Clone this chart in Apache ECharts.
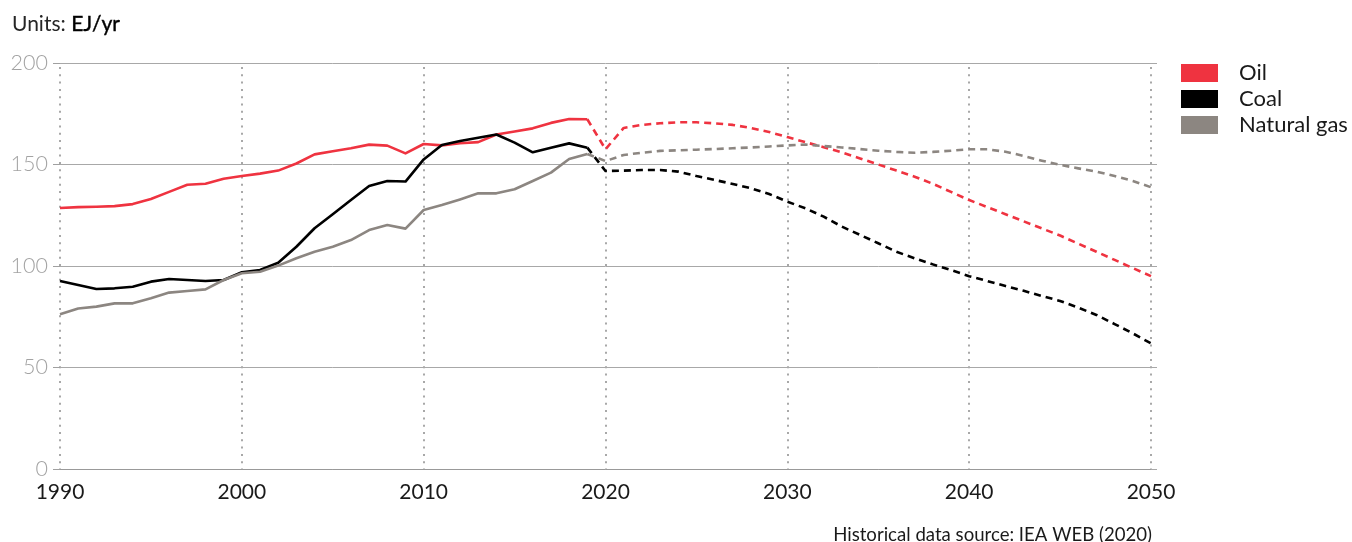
<!DOCTYPE html>
<html>
<head>
<meta charset="utf-8">
<script src="https://cdn.jsdelivr.net/npm/echarts@6/dist/echarts.min.js"></script>
<style>
  html, body { margin: 0; padding: 0; background: #ffffff; }
  #chart { width: 1352px; height: 542px; }
</style>
</head>
<body>
<div id="chart"></div>
<script>
// Primary energy demand by fuel, EJ/yr
const histYears = [1990,1991,1992,1993,1994,1995,1996,1997,1998,1999,
                   2000,2001,2002,2003,2004,2005,2006,2007,2008,2009,
                   2010,2011,2012,2013,2014,2015,2016,2017,2018,2019];
const oilHist  = [128.6,129.0,129.2,129.5,130.5,133.0,136.5,140.0,140.5,143.0,
                  144.3,145.5,147.0,150.5,155.0,156.5,158.0,159.8,159.3,155.5,
                  160.1,159.4,160.5,161.0,164.8,166.3,167.8,170.5,172.4,172.3];
const coalHist = [92.6,90.6,88.7,89.0,89.8,92.3,93.6,93.1,92.6,93.1,
                  96.9,98.0,101.6,109.5,118.6,125.5,132.5,139.4,141.9,141.6,
                  152.5,159.6,161.6,163.2,164.8,160.8,156.0,158.3,160.4,158.3];
const gasHist  = [76.2,79.1,80.0,81.6,81.6,84.1,86.9,87.7,88.5,93.1,
                  96.4,97.2,100.2,103.8,107.0,109.5,112.8,117.7,120.2,118.4,
                  127.6,130.0,132.8,135.8,135.8,137.8,141.9,146.0,152.7,155.2];

const projYears = [2019,2020,2021,2022,2023,2024,2025,2026,2027,2028,2029,
                   2030,2031,2032,2033,2034,2035,2036,2037,2038,2039,
                   2040,2041,2042,2043,2044,2045,2046,2047,2048,2049,2050];
const oilProj  = [172.3,157.5,168.0,169.5,170.3,170.8,170.8,170.3,169.5,168.0,166.0,
                  163.5,161.0,158.5,156.0,153.0,150.0,147.0,144.0,140.5,136.5,
                  132.5,129.0,125.5,122.0,118.5,115.0,111.0,107.0,103.0,99.0,95.0];
const coalProj = [158.3,146.8,147.0,147.3,147.3,146.5,144.3,142.4,140.4,138.3,135.5,
                  131.7,128.4,124.3,119.4,115.3,111.2,107.0,103.8,100.8,98.0,
                  95.0,92.6,90.1,87.8,85.2,82.8,79.5,75.9,71.4,66.8,61.9];
const gasProj  = [155.2,151.7,154.7,155.8,156.7,157.0,157.3,157.6,158.0,158.4,158.9,
                  159.4,159.8,159.1,158.4,157.6,156.8,156.2,155.8,156.2,156.8,
                  157.5,157.5,156.3,154.2,151.9,149.8,148.1,146.5,144.3,141.9,138.8];

const fuelNames = ['Oil', 'Coal', 'Natural gas'];
const xTicks = [1990, 2000, 2010, 2020, 2030, 2040, 2050];
const yTicks = [0, 50, 100, 150, 200];

const colors = { 'Oil': '#EF3340', 'Coal': '#000000', 'Natural gas': '#8C8681' };
const FONT = 'Lato, "Noto Sans", sans-serif';

function pairs(xs, ys) { return xs.map((x, i) => [x, ys[i]]); }

function lineSeries(name, xs, ys, dashed) {
  return {
    name: name,
    type: 'line',
    data: pairs(xs, ys),
    showSymbol: false,
    symbol: 'none',
    smooth: false,
    z: dashed ? 3 : 4,
    lineStyle: {
      color: colors[name],
      width: 2.6,
      type: dashed ? [7, 5] : 'solid',
      cap: 'butt',
      join: 'round'
    },
    itemStyle: { color: colors[name] },
    emphasis: { disabled: true },
    animation: false
  };
}

const chart = echarts.init(document.getElementById('chart'), null, { renderer: 'canvas' });

chart.setOption({
  animation: false,
  backgroundColor: '#ffffff',
  textStyle: { fontFamily: FONT },
  title: [
    {
      left: 7, top: 9,
      text: '{a|Units: }{b|EJ/yr}',
      textStyle: {
        rich: {
          a: { fontFamily: FONT, fontSize: 21, color: '#262626', fontWeight: 'normal' },
          b: { fontFamily: FONT, fontSize: 21, color: '#000000', fontWeight: 'normal',
               textBorderColor: '#000000', textBorderWidth: 0.4 }
        }
      }
    },
    {
      right: 195, top: 520,
      text: 'Historical data source: IEA WEB (2020)',
      textStyle: { fontFamily: FONT, fontSize: 18.6, color: '#1a1a1a', fontWeight: 'normal' }
    }
  ],
  legend: {
    orient: 'vertical',
    left: 1176, top: 57,
    itemWidth: 37, itemHeight: 18, itemGap: 4,
    icon: 'rect',
    selectedMode: false,
    textStyle: { fontFamily: FONT, fontSize: 22, color: '#1a1a1a', padding: [0, 0, 0, 16] },
    data: fuelNames.map(n => ({ name: n, itemStyle: { color: colors[n] }, lineStyle: { opacity: 0 } }))
  },
  grid: { left: 60, right: 201, top: 63, bottom: 73, containLabel: false },
  xAxis: {
    type: 'value',
    min: xTicks[0], max: xTicks[xTicks.length - 1], interval: 10,
    axisLine: { show: true, lineStyle: { color: '#999999', width: 1 } },
    axisTick: { show: false },
    axisLabel: {
      margin: 13, fontSize: 21, color: '#1a1a1a', fontFamily: FONT,
      formatter: v => String(v)
    },
    splitLine: {
      show: true,
      lineStyle: { color: '#a8a8a8', width: 2, type: [2, 5.3], dashOffset: -4 }
    }
  },
  yAxis: [
    {
      type: 'value',
      min: yTicks[0], max: yTicks[yTicks.length - 1], interval: 50,
      axisLine: { show: false },
      axisTick: { show: true, length: 7, lineStyle: { color: '#a0a0a0' } },
      axisLabel: { margin: 12, fontSize: 21.5, color: '#a3a3a3', fontFamily: FONT, fontWeight: 300 },
      splitLine: { show: true, lineStyle: { color: '#a8a8a8', width: 1 } }
    },
    {
      type: 'value', position: 'right',
      min: yTicks[0], max: yTicks[yTicks.length - 1], interval: 50,
      axisLine: { show: false },
      axisTick: { show: true, length: 6, lineStyle: { color: '#a8a8a8' } },
      axisLabel: { show: false },
      splitLine: { show: false }
    }
  ],
  series: [
    lineSeries('Oil', projYears, oilProj, true),
    lineSeries('Coal', projYears, coalProj, true),
    lineSeries('Natural gas', projYears, gasProj, true),
    lineSeries('Oil', histYears, oilHist, false),
    lineSeries('Coal', histYears, coalHist, false),
    lineSeries('Natural gas', histYears, gasHist, false)
  ]
});
</script>
</body>
</html>
